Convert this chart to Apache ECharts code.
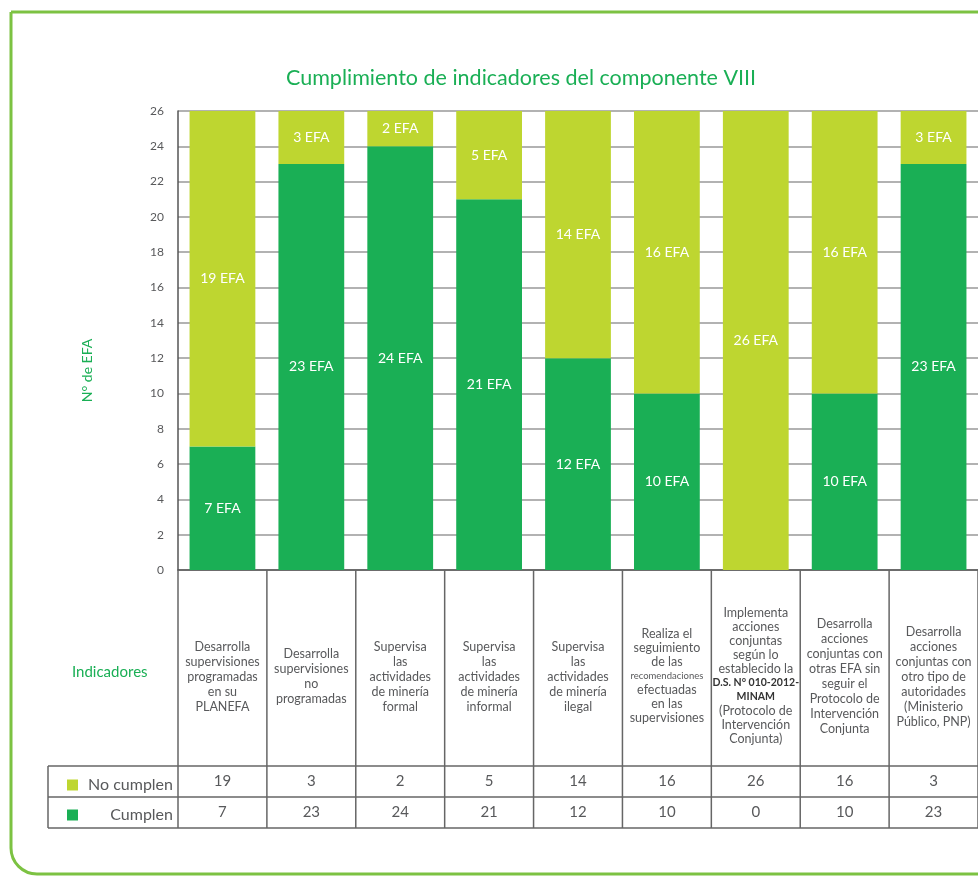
<!DOCTYPE html>
<html>
<head>
<meta charset="utf-8">
<script src="https://cdn.jsdelivr.net/npm/echarts@6/dist/echarts.min.js"></script>
<style>
  html, body { margin: 0; padding: 0; background: #fff; }
  #chart { width: 978px; height: 878px; }
</style>
</head>
<body>
<div id="chart"></div>
<script>
// data
const categories = [
  'Desarrolla\nsupervisiones\nprogramadas\nen su\nPLANEFA',
  'Desarrolla\nsupervisiones\nno\nprogramadas',
  'Supervisa\nlas\nactividades\nde minería\nformal',
  'Supervisa\nlas\nactividades\nde minería\ninformal',
  'Supervisa\nlas\nactividades\nde minería\nilegal',
  'Realiza el\nseguimiento\nde las\n{s|recomendaciones}\nefectuadas\nen las\nsupervisiones',
  'Implementa\nacciones\nconjuntas\nsegún lo\nestablecido la\n{b|D.S. N° 010-2012-}\n{b|MINAM}\n(Protocolo de\nIntervención\nConjunta)',
  'Desarrolla\nacciones\nconjuntas con\notras EFA sin\nseguir el\nProtocolo de\nIntervención\nConjunta',
  'Desarrolla\nacciones\nconjuntas con\notro tipo de\nautoridades\n(Ministerio\nPúblico, PNP)'
];
const noCumplen = [19, 3, 2, 5, 14, 16, 26, 16, 3];
const cumplen = [7, 23, 24, 21, 12, 10, 0, 10, 23];
const yTicks = { min: 0, max: 26, interval: 2 };

const LIGHT = '#bed630';
const DARK = '#1aaf55';
const TEXT = '#58595b';
const FONT = 'Lato, "Open Sans", sans-serif';

const chart = echarts.init(document.getElementById('chart'));

const tightRows = [5, 6];

// vertical centring of the multi-line labels inside the table cell
function labelStyle(c, i) {
  const lh = tightRows.includes(i) ? 14 : 15;
  const lines = c.split('\n').length;
  const pt = Math.round(106 - (lines * lh) / 2);
  return { lineHeight: lh, padding: [pt, 0, 0, 0] };
}

const option = {
  animation: false,
  textStyle: { fontFamily: FONT },
  title: {
    text: 'Cumplimiento de indicadores del componente VIII',
    left: 516,
    textAlign: 'center',
    top: 62,
    textStyle: { color: DARK, fontSize: 21.5, fontWeight: 'normal', fontFamily: FONT }
  },
  legend: {
    orient: 'vertical',
    left: 62,
    top: 772,
    itemGap: 14,
    itemWidth: 11,
    itemHeight: 11,
    icon: 'rect',
    data: ['No cumplen', 'Cumplen'],
    selectedMode: false,
    formatter: name => '{r|' + name + '}',
    textStyle: {
      color: TEXT, fontSize: 16, fontFamily: FONT,
      rich: { r: { width: 90, lineHeight: 18, align: 'right', fontSize: 16, color: TEXT, fontFamily: FONT } }
    }
  },
  grid: { left: 178, top: 111, width: 801, height: 459, containLabel: false },
  xAxis: [
    {
      type: 'category',
      data: categories.map((c, i) => ({ value: c, textStyle: labelStyle(c, i) })),
      axisLine: { show: true, lineStyle: { color: '#555', width: 1.5 } },
      axisTick: { show: false },
      axisLabel: {
        interval: 0,
        margin: 0,
        color: TEXT,
        fontSize: 12.5,
        lineHeight: 15,
        fontFamily: FONT,
        rich: {
          s: { fontSize: 9.5, color: TEXT, lineHeight: 14, fontFamily: FONT },
          b: { fontSize: 10.5, fontWeight: 'bold', color: '#333', lineHeight: 14, fontFamily: FONT }
        }
      }
    },
    {
      type: 'category',
      position: 'bottom',
      offset: 211,
      data: categories,
      axisLine: { show: false },
      axisTick: { show: false },
      axisLabel: {
        interval: 0, margin: 0, verticalAlign: 'middle',
        color: TEXT, fontSize: 15, fontFamily: FONT,
        formatter: (v, i) => String(noCumplen[i])
      }
    },
    {
      type: 'category',
      position: 'bottom',
      offset: 242,
      data: categories,
      axisLine: { show: false },
      axisTick: { show: false },
      axisLabel: {
        interval: 0, margin: 0, verticalAlign: 'middle',
        color: TEXT, fontSize: 15, fontFamily: FONT,
        formatter: (v, i) => String(cumplen[i])
      }
    }
  ],
  yAxis: {
    type: 'value',
    min: yTicks.min,
    max: yTicks.max,
    interval: yTicks.interval,
    name: 'N° de EFA',
    nameLocation: 'middle',
    nameGap: 84,
    nameTextStyle: { color: DARK, fontSize: 14, fontFamily: FONT, padding: [0, 60, 0, 0] },
    axisLine: { show: true, lineStyle: { color: '#555', width: 1.5 } },
    axisTick: { show: false },
    axisLabel: { color: TEXT, fontSize: 12, margin: 14, fontFamily: FONT },
    splitLine: { show: true, lineStyle: { color: '#999', width: 1.5 } }
  },
  series: [
    {
      name: 'Cumplen',
      type: 'bar',
      stack: 'total',
      data: cumplen,
      barWidth: '74%',
      itemStyle: { color: DARK },
      label: {
        show: true, position: 'inside', color: '#fff', fontSize: 14, fontFamily: FONT,
        formatter: p => (p.value ? p.value + ' EFA' : '')
      }
    },
    {
      name: 'No cumplen',
      type: 'bar',
      stack: 'total',
      data: noCumplen,
      barWidth: '74%',
      itemStyle: { color: LIGHT },
      label: {
        show: true, position: 'inside', color: '#fff', fontSize: 14, fontFamily: FONT,
        formatter: p => (p.value ? p.value + ' EFA' : '')
      }
    }
  ]
};

chart.setOption(option);

// table lines and frame
function drawTable() {
  const y0 = chart.convertToPixel({ yAxisIndex: 0 }, 0);
  const c0 = chart.convertToPixel({ xAxisIndex: 0 }, 0);
  const c1 = chart.convertToPixel({ xAxisIndex: 0 }, 1);
  const band = c1 - c0;
  const rowTop = y0 + 196;
  const rowMid = rowTop + 31;
  const rowBot = rowMid + 31;
  const lineStyle = { stroke: '#666', lineWidth: 1.5 };
  const els = [];
  for (let i = 0; i <= categories.length; i++) {
    const x = c0 - band / 2 + i * band;
    els.push({ type: 'line', shape: { x1: x, y1: y0, x2: x, y2: rowBot }, style: lineStyle, z: 5 });
  }
  [rowTop, rowMid, rowBot].forEach(y => {
    els.push({ type: 'line', shape: { x1: 48, y1: y, x2: 990, y2: y }, style: lineStyle, z: 5 });
  });
  els.push({ type: 'line', shape: { x1: 48, y1: rowTop, x2: 48, y2: rowBot }, style: lineStyle, z: 5 });
  els.push({
    type: 'text', left: 72, top: 665,
    style: { text: 'Indicadores', fill: DARK, font: '15px ' + FONT }
  });
  els.push({
    type: 'rect',
    shape: { x: 11, y: 12, width: 1000, height: 862, r: [0, 0, 0, 26] },
    style: { fill: 'none', stroke: '#7cc242', lineWidth: 3 },
    z: 0
  });
  chart.setOption({ graphic: els });
}
drawTable();
</script>
</body>
</html>
